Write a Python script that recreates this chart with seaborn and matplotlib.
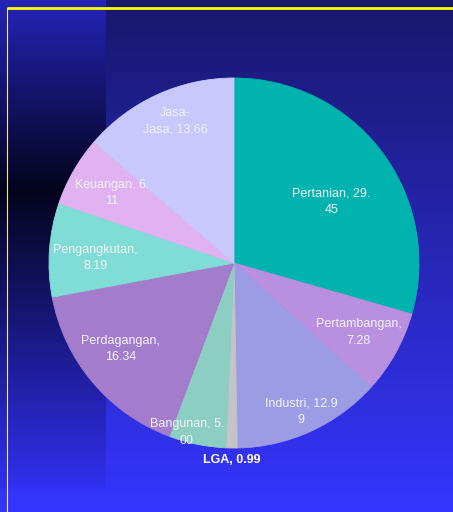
import numpy as np
import matplotlib
matplotlib.use("Agg")
import matplotlib.pyplot as plt
import seaborn as sns

# Struktur ekonomi per sektor (%)
sectors = ["Pertanian", "Pertambangan", "Industri", "LGA", "Bangunan",
           "Perdagangan", "Pengangkutan", "Keuangan", "Jasa-Jasa"]
shares = [29.45, 7.28, 12.99, 0.99, 5.00, 16.34, 8.19, 6.11, 13.66]
slice_labels = ["Pertanian, 29.\n45", "Pertambangan,\n7.28", "Industri, 12.9\n9",
                "LGA, 0.99", "Bangunan, 5.\n00", "Perdagangan,\n16.34",
                "Pengangkutan,\n8.19", "Keuangan, 6.\n11", "Jasa-\nJasa, 13.66"]
slice_colors = ["#00b3ae", "#b98fe0", "#9c9ce4", "#c4c4c8", "#8ccfc2",
                "#a47ccc", "#80dcd6", "#e0b2f2", "#c8c8fc"]

# label placement (fraction of radius, angle tweak in degrees)
label_dist = [0.62, 0.77, 0.88, 1.065, 0.95, 0.77, 0.75, 0.76, 0.83]
label_shift = [-5, 0, 0, 0, -4, -3, 2, 0, -2]

sns.set_theme(style="white")
plt.rcParams['font.family'] = ['Liberation Sans', 'DejaVu Sans']

W, H = 453, 512
fig = plt.figure(figsize=(W / 100, H / 100), dpi=100)

# slide background gradient
yy = np.arange(H)[:, None] / (H - 1)
top = np.array([0x18, 0x18, 0x6c]) / 255
bot = np.array([0x35, 0x35, 0xff]) / 255
img = np.repeat((top + (bot - top) * yy)[:, None, :], W, axis=1)
img = img.reshape(H, W, 3)
strip_top = np.array([0x24, 0x24, 0xb8]) / 255
strip_mid = np.array([0x04, 0x04, 0x1c]) / 255
strip_bot = np.array([0x30, 0x30, 0xf0]) / 255
for y in range(488):
    if y < 190:
        t = y / 190
        c = strip_top + (strip_mid - strip_top) * t
    else:
        t = (y - 190) / (488 - 190)
        c = strip_mid + (strip_bot - strip_mid) * t
    img[y, :106] = c

bg = fig.add_axes([0, 0, 1, 1])
bg.imshow(img, extent=[0, W, H, 0], aspect="auto")
bg.plot([7, W], [8, 8], color="#ffff00", lw=2, solid_capstyle="butt")
bg.plot([7, 7], [8, H], color="#e8e8a0", lw=0.8)
bg.set_xlim(0, W)
bg.set_ylim(H, 0)
bg.axis("off")

# pie
cx, cy, r = 234, 263, 185
ax = fig.add_axes([(cx - r) / W, (H - cy - r) / H, 2 * r / W, 2 * r / H])
wedges, _ = ax.pie(shares, colors=slice_colors, startangle=90, counterclock=False,
                   wedgeprops=dict(linewidth=0.6))
for w in wedges:
    w.set_edgecolor(w.get_facecolor())
ax.set_xlim(-1, 1)
ax.set_ylim(-1, 1)
ax.set_aspect("equal")
ax.axis("off")

for i, w in enumerate(wedges):
    ang = np.deg2rad((w.theta1 + w.theta2) / 2 + label_shift[i])
    d = label_dist[i]
    bold = sectors[i] == "LGA"
    ax.text(d * np.cos(ang), d * np.sin(ang), slice_labels[i],
            ha="center", va="center", color="white" if bold else "#f2f2f6",
            fontsize=9 if bold else 9, fontweight="bold" if bold else "normal",
            linespacing=1.5, clip_on=False)

fig.savefig("out.png", dpi=100)
